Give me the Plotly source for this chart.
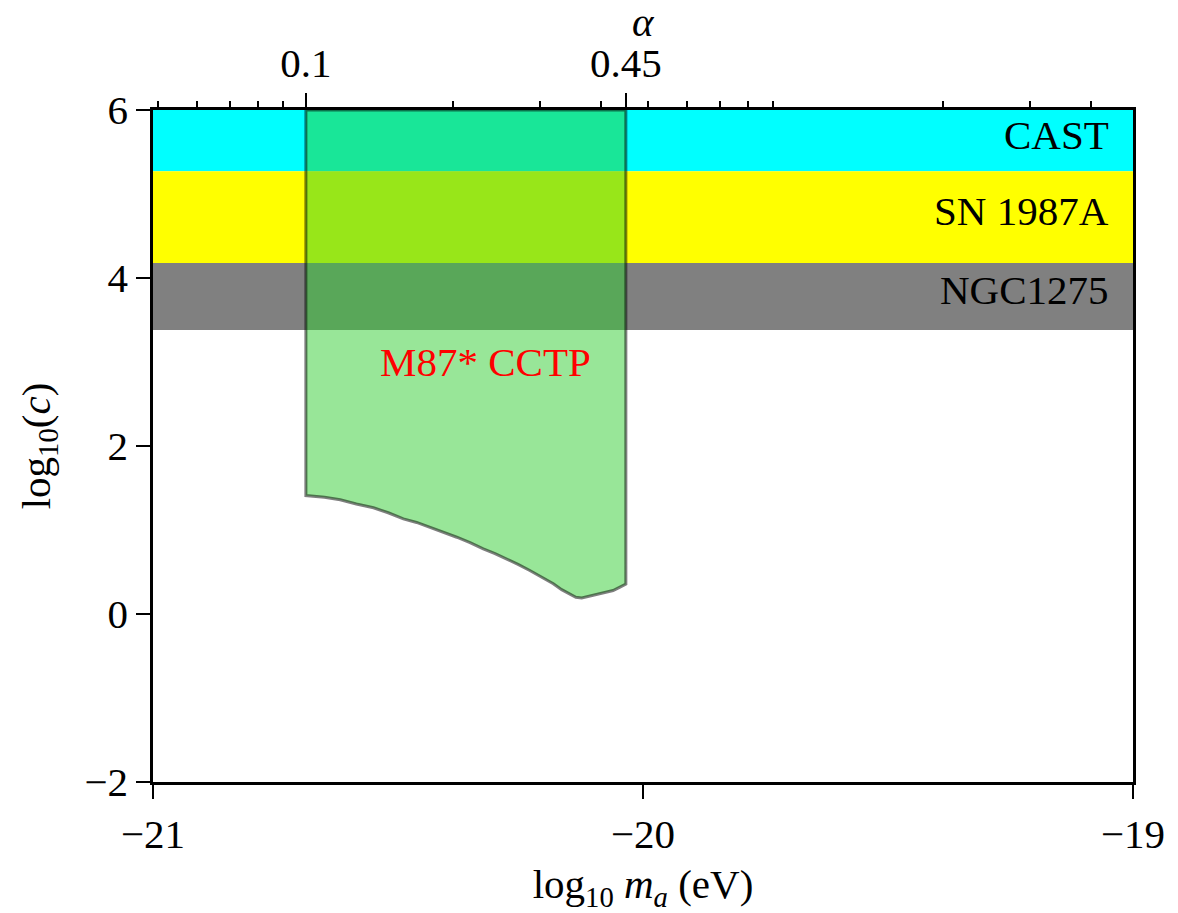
import numpy as np
import plotly.graph_objects as go

# ---------------- data ----------------
x_range = [-21.0, -19.0]
y_range = [-2.0, 6.0]
x_ticks = [-21, -20, -19]
y_ticks = [-2, 0, 2, 4, 6]

# offset between log10(alpha) and log10(m_a / eV)
alpha_offset = 19.688
alpha_major = [0.1, 0.45]
alpha_major_text = ["0.1", "0.45"]
alpha_minor = [0.05, 0.06, 0.07, 0.08, 0.09, 0.2, 0.3, 0.4, 0.5, 0.6, 0.7, 0.8, 0.9, 2, 3, 4]

# excluded bands in log10(c)
band_names = ["CAST", "SN 1987A", "NGC1275"]
band_top = [6.0, 5.27, 4.18]
band_bottom = [5.27, 4.18, 3.38]
band_colors = ["#00ffff", "#ffff00", "#808080"]

# M87* CCTP region: lower boundary of log10(c) vs log10(m_a)
m87_logm = [-20.688, -20.650, -20.618, -20.585, -20.550, -20.520, -20.489, -20.462,
            -20.435, -20.408, -20.380, -20.353, -20.326, -20.302, -20.278, -20.255,
            -20.231, -20.207, -20.183, -20.166, -20.149, -20.137, -20.125, -20.107,
            -20.088, -20.075, -20.061, -20.047, -20.035]
m87_logc = [1.41, 1.39, 1.36, 1.31, 1.264, 1.205, 1.133, 1.09,
            1.033, 0.98, 0.914, 0.85, 0.776, 0.72, 0.657, 0.59,
            0.518, 0.44, 0.36, 0.29, 0.232, 0.20, 0.19, 0.215,
            0.24, 0.255, 0.28, 0.32, 0.355]
m87_top = 6.0
m87_label = "M87* CCTP"

FONT = "Liberation Serif"
FS = 41

fig = go.Figure()

# bands
for name, t, b, c in zip(band_names, band_top, band_bottom, band_colors):
    fig.add_trace(go.Scatter(
        x=[x_range[0], x_range[1], x_range[1], x_range[0], x_range[0]],
        y=[t, t, b, b, t],
        mode="lines", fill="toself", fillcolor=c,
        line=dict(width=0, color=c), hoverinfo="skip", showlegend=False))
    fig.add_annotation(x=-19.045, y=(t + b) / 2, text=name, showarrow=False,
                       xanchor="right", yanchor="middle", yshift=6,
                       font=dict(family=FONT, size=FS, color="black"))

# M87 region
px = [m87_logm[0]] + m87_logm + [m87_logm[-1], m87_logm[0]]
py = [m87_top] + m87_logc + [m87_top, m87_top]
fig.add_trace(go.Scatter(
    x=px, y=py, mode="lines", fill="toself",
    fillcolor="rgba(50,205,50,0.5)",
    line=dict(color="rgba(0,0,0,0.5)", width=3),
    hoverinfo="skip", showlegend=False))
fig.add_annotation(x=-20.321, y=2.96, text=m87_label, showarrow=False,
                   xanchor="center", yanchor="middle", yshift=3,
                   font=dict(family=FONT, size=FS, color="#ff0000"))

# alpha axis title
fig.add_annotation(x=0.5, y=1.0, xref="paper", yref="paper", text="<i>α</i>",
                   showarrow=False, xanchor="center", yanchor="top", yshift=108,
                   height=38, valign="middle", borderpad=0,
                   font=dict(family=FONT, size=FS, color="black"))

# dummy trace on the alpha axis
fig.add_trace(go.Scatter(x=alpha_major, y=[0, 0], xaxis="x2", mode="markers",
                         marker=dict(opacity=0), hoverinfo="skip", showlegend=False))

fig.update_layout(
    width=1178, height=913,
    margin=dict(l=153, r=45, t=110, b=131, autoexpand=False),
    plot_bgcolor="white", paper_bgcolor="white",
    font=dict(family=FONT, size=FS, color="black"),
    xaxis=dict(
        range=x_range, tickmode="array", tickvals=x_ticks, automargin=False,
        ticks="outside", ticklen=14, tickwidth=2, tickcolor="black",
        showline=True, linewidth=2.5, linecolor="black", mirror=True,
        showgrid=False, zeroline=False,
        title=dict(text="log<sub>10</sub> <i>m<sub>a</sub></i> (eV)",
                   font=dict(family=FONT, size=FS), standoff=14),
        tickfont=dict(family=FONT, size=FS),
    ),
    xaxis2=dict(
        type="log", overlaying="x", side="top", anchor="y", automargin=False,
        range=[x_range[0] + alpha_offset, x_range[1] + alpha_offset],
        tickmode="array", tickvals=alpha_major, ticktext=alpha_major_text,
        ticks="outside", ticklen=16, tickwidth=2, tickcolor="black",
        minor=dict(tickmode="array", tickvals=alpha_minor, ticks="outside",
                   ticklen=8, tickwidth=1.5, tickcolor="black", showgrid=False),
        showline=False, showgrid=False, zeroline=False,
        tickfont=dict(family=FONT, size=FS),
    ),
    yaxis=dict(
        range=y_range, tickmode="array", tickvals=y_ticks, automargin=False,
        ticks="outside", ticklen=14, tickwidth=2, tickcolor="black",
        showline=True, linewidth=2.5, linecolor="black", mirror=True,
        showgrid=False, zeroline=False,
        title=dict(text="log<sub>10</sub>(<i>c</i>)",
                   font=dict(family=FONT, size=FS), standoff=22),
        tickfont=dict(family=FONT, size=FS),
    ),
)

fig.write_html("out.html")
